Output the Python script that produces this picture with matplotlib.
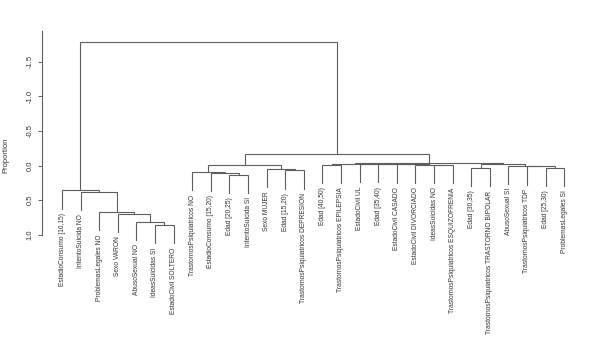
import matplotlib
matplotlib.use("Agg")
import matplotlib.pyplot as plt

plt.rcParams['font.family'] = ['Liberation Sans', 'DejaVu Sans']
plt.rcParams['axes.unicode_minus'] = False

# leaf labels in plotted order (x = 1..28)
labels = [
    "EstadioConsumo [10,15)", "IntentoSuicida NO", "ProblemasLegales NO",
    "Sexo VARON", "AbusoSexual NO", "IdeasSuicidas SI", "EstadoCivil SOLTERO",
    "TrastornosPsiquiatricos NO", "EstadioConsumo [15,20)", "Edad [20,25)",
    "IntentoSuicida SI", "Sexo MUJER", "Edad [15,20)",
    "TrastornosPsiquiatricos DEPRESION", "Edad [40,50)",
    "TrastornosPsiquiatricos EPILEPSIA", "EstadoCivil UL", "Edad [35,40)",
    "EstadoCivil CASADO", "EstadoCivil DIVORCIADO", "IdeasSuicidas NO",
    "TrastornosPsiquiatricos ESQUIZOFRENIA", "Edad [30,35)",
    "TrastornosPsiquiatricos TRASTORNO BIPOLAR", "AbusoSexual SI",
    "TrastornosPsiquiatricos TDP", "Edad [25,30)", "ProblemasLegales SI",
]

# merges, R style: negative = leaf (position), positive = earlier merge (1-based)
merge_left = [-27, -26, -25, -23, 4, -21, -20, -19, -18, -17, -15, 11, 12,
              -13, -12, -10, -9, -8, 18, 19, -6, -5, -4, -3, -2, -1, 26]
merge_right = [-28, 1, 2, -24, 3, -22, 6, 7, 8, 9, -16, 10, 5,
               -14, 14, -11, 16, 17, 15, 13, -7, 21, 22, 23, 24, 25, 20]
heights = [0.036, 0.014, 0.0, 0.036, -0.022, -0.010, -0.013, -0.016, -0.019,
           -0.022, -0.014, -0.029, -0.043, 0.072, 0.051, 0.130, 0.108, 0.094,
           -0.007, -0.173, 0.860, 0.816, 0.694, 0.672, 0.383, 0.361, -1.785]

yticks = [1.0, 0.5, 0.0, -0.5, -1.0, -1.5]

hang = 0.1 * (max(heights) - min(heights))
line_col = "#5e5e5e"

fig = plt.figure(figsize=(6.02, 3.43), dpi=100)
# axes placed so the y scale matches the original plot region
ax = fig.add_axes([42 / 602, 1 - 234.7 / 343, 548 / 602, 204.1 / 343])

node_x = []


def child_pos(c, parent_h):
    if c < 0:
        return -c, parent_h + hang, True
    return node_x[c - 1], heights[c - 1], False


for l, r, h in zip(merge_left, merge_right, heights):
    xl, yl, leaf_l = child_pos(l, h)
    xr, yr, leaf_r = child_pos(r, h)
    ax.plot([xl, xl, xr, xr], [yl, h, h, yr], color=line_col, lw=0.8,
            solid_joinstyle="miter", clip_on=False)
    for c, xx, yy, is_leaf in [(l, xl, yl, leaf_l), (r, xr, yr, leaf_r)]:
        if is_leaf:
            ax.annotate(labels[-c - 1], (xx, yy), xytext=(0, -3),
                        textcoords="offset points", rotation=90,
                        ha="center", va="top", fontsize=4.8,
                        color="#333333", annotation_clip=False)
    node_x.append((xl + xr) / 2)

ax.set_xlim(1 - 20 / 18.6, 1 + (590 - 62) / 18.6)
ax.set_ylim(1.0, -1.95)
ax.set_xticks([])
ax.set_yticks(yticks)
ax.set_yticklabels([f"{t:.1f}" for t in yticks], rotation=90, va="center",
                   fontsize=5.5, color="#333333")
ax.tick_params(axis="y", length=3, width=0.7, color=line_col, pad=3)
for side in ["top", "right", "bottom"]:
    ax.spines[side].set_visible(False)
ax.spines["left"].set_color(line_col)
ax.spines["left"].set_linewidth(0.8)
ax.patch.set_alpha(0)

fig.text(6 / 602, 1 - 155 / 343, "Proportion", rotation=90, ha="center",
         va="center", fontsize=5.5, color="#333333")

fig.savefig("out.png", dpi=100)
